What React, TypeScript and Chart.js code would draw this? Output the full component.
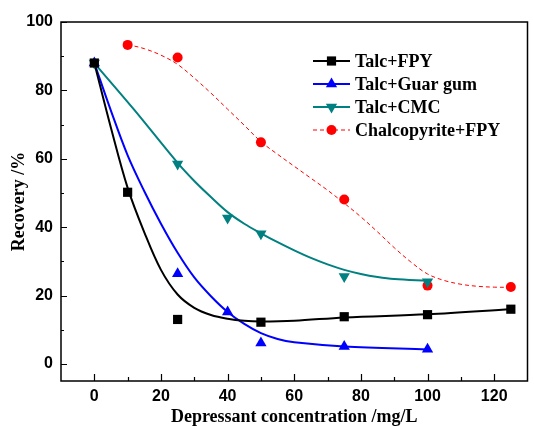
import { useEffect, useRef } from "react";
import { Chart, registerables } from "chart.js";

Chart.register(...registerables);

// ---- data ----
const seriesLabels = ["Talc+FPY", "Talc+Guar gum", "Talc+CMC", "Chalcopyrite+FPY"];
const seriesColors = ["#000000", "#0000ff", "#008080", "#ff0000"];

const talcFpyX = [0, 10, 25, 50, 75, 100, 125];
const talcFpyY = [88, 50.2, 13, 12.2, 13.8, 14.4, 16];
const talcGuarX = [0, 25, 40, 50, 75, 100];
const talcGuarY = [88, 26.4, 15.2, 6.1, 5.1, 4.3];
const talcCmcX = [0, 25, 40, 50, 75, 100];
const talcCmcY = [88, 58.5, 42.7, 38.1, 25.6, 24.0];
const chalcoX = [10, 25, 50, 75, 100, 125];
const chalcoY = [93.3, 89.6, 64.8, 48.1, 22.9, 22.5];

// fitted curves
const talcFpyFitX = [0, 5, 10, 15, 20, 25, 30, 35, 40, 45, 50, 60, 75, 100, 125];
const talcFpyFitY = [88, 69, 51.5, 38.5, 27.5, 20.3, 16.4, 14.3, 13.2, 12.6, 12.4, 12.6, 13.6, 14.5, 16];
const talcGuarFitX = [0, 5, 10, 15, 20, 25, 30, 35, 40, 45, 50, 55, 60, 75, 100];
const talcGuarFitY = [88, 74, 61, 50.5, 41, 32.5, 25.3, 19.8, 15.2, 11.7, 9, 7.3, 6.3, 5.1, 4.2];
const talcCmcFitX = [0, 12, 25, 30, 35, 40, 45, 50, 55, 60, 65, 70, 75, 80, 85, 90, 100];
const talcCmcFitY = [88, 74.3, 58.8, 53.5, 48.8, 44.4, 41, 38.2, 35.6, 33.2, 31, 29.1, 27.5, 26.3, 25.4, 24.8, 24.3];
const chalcoFitX = [10, 15, 20, 25, 30, 35, 40, 45, 50, 55, 60, 65, 70, 75, 80, 85, 90, 95, 100, 105, 110, 115, 120, 125];
const chalcoFitY = [93.4, 92.2, 90.3, 87.6, 83.6, 79.2, 74.5, 69.8, 65, 61.3, 57.8, 54.3, 50.8, 47, 43, 38.6, 34, 29.8, 26.3, 24.4, 23.3, 22.7, 22.45, 22.4];

const xMajorTicks = [0, 20, 40, 60, 80, 100, 120];
const xMinorTicks = [10, 30, 50, 70, 90, 110];
const yMajorTicks = [0, 20, 40, 60, 80, 100];
const yMinorTicks = [10, 30, 50, 70, 90];

const xTitle = "Depressant concentration /mg/L";
const yTitle = "Recovery /%";

const pts = (xs: number[], ys: number[]) => xs.map((x, i) => ({ x, y: ys[i] }));

const markerStyles = ["rect", "triangle", "triangle", "circle"];
const markerRot = [0, 0, 180, 0];
const markerRadius = [6.5, 6.5, 6.5, 5];
const lineWidths = [2, 2, 2, 1];
const lineDashes: number[][] = [[], [], [], [4, 3]];

function drawMarker(ctx: CanvasRenderingContext2D, i: number, x: number, y: number) {
  const r = markerRadius[i];
  ctx.save();
  ctx.fillStyle = seriesColors[i];
  ctx.setLineDash([]);
  ctx.beginPath();
  if (markerStyles[i] === "rect") {
    const s = Math.SQRT1_2 * r;
    ctx.rect(x - s, y - s, 2 * s, 2 * s);
  } else if (markerStyles[i] === "circle") {
    ctx.arc(x, y, r, 0, Math.PI * 2);
  } else {
    const rot = (markerRot[i] * Math.PI) / 180;
    for (let k = 0; k < 3; k++) {
      const a = rot + (k * 2 * Math.PI) / 3;
      const px = x + Math.sin(a) * r;
      const py = y - Math.cos(a) * r;
      if (k === 0) ctx.moveTo(px, py);
      else ctx.lineTo(px, py);
    }
    ctx.closePath();
  }
  ctx.fill();
  ctx.restore();
}

const framePlugin = {
  id: "frame",
  afterDraw(chart: any) {
    const { ctx, chartArea, scales } = chart;
    const { left, right, top, bottom } = chartArea;
    ctx.save();
    ctx.strokeStyle = "#000";
    ctx.lineWidth = 1.5;
    ctx.setLineDash([]);
    ctx.strokeRect(left, top, right - left, bottom - top);
    ctx.lineWidth = 1.2;
    ctx.beginPath();
    xMajorTicks.forEach((v) => {
      const px = Math.round(scales.x.getPixelForValue(v)) + 0.5;
      ctx.moveTo(px, bottom);
      ctx.lineTo(px, bottom - 7);
    });
    xMinorTicks.forEach((v) => {
      const px = Math.round(scales.x.getPixelForValue(v)) + 0.5;
      ctx.moveTo(px, bottom);
      ctx.lineTo(px, bottom - 4);
    });
    yMajorTicks.forEach((v) => {
      const py = Math.round(scales.y.getPixelForValue(v)) + 0.5;
      ctx.moveTo(left, py);
      ctx.lineTo(left + 6, py);
    });
    yMinorTicks.forEach((v) => {
      const py = Math.round(scales.y.getPixelForValue(v)) + 0.5;
      ctx.moveTo(left, py);
      ctx.lineTo(left + 3, py);
    });
    ctx.stroke();

    // legend
    const lx0 = 313, lx1 = 350, tx = 355, ly0 = 61, gap = 23;
    ctx.font = "bold 18px 'Liberation Serif', 'Times New Roman', serif";
    ctx.textBaseline = "middle";
    ctx.textAlign = "left";
    seriesLabels.forEach((label, i) => {
      const y = ly0 + i * gap;
      ctx.save();
      ctx.strokeStyle = seriesColors[i];
      ctx.lineWidth = lineWidths[i];
      ctx.setLineDash(lineDashes[i]);
      ctx.beginPath();
      ctx.moveTo(lx0, y);
      ctx.lineTo(lx1, y);
      ctx.stroke();
      ctx.restore();
      drawMarker(ctx, i, (lx0 + lx1) / 2, y);
      ctx.fillStyle = "#000";
      ctx.fillText(label, tx, y + 1);
    });
    ctx.restore();
  },
};

export default function App() {
  const ref = useRef<HTMLCanvasElement>(null);
  useEffect(() => {
    document.body.style.margin = "0";
    const fitXs = [talcFpyFitX, talcGuarFitX, talcCmcFitX, chalcoFitX];
    const fitYs = [talcFpyFitY, talcGuarFitY, talcCmcFitY, chalcoFitY];
    const ptXs = [talcFpyX, talcGuarX, talcCmcX, chalcoX];
    const ptYs = [talcFpyY, talcGuarY, talcCmcY, chalcoY];
    const datasets: any[] = [];
    seriesLabels.forEach((label, i) => {
      datasets.push({
        label: label + " fit",
        data: pts(fitXs[i], fitYs[i]),
        showLine: true,
        borderColor: seriesColors[i],
        borderWidth: lineWidths[i],
        borderDash: lineDashes[i],
        pointRadius: 0,
        tension: 0.35,
        fill: false,
        order: 2,
      });
    });
    seriesLabels.forEach((label, i) => {
      datasets.push({
        label,
        data: pts(ptXs[i], ptYs[i]),
        showLine: false,
        pointStyle: markerStyles[i],
        pointRotation: markerRot[i],
        pointRadius: markerRadius[i],
        pointBackgroundColor: seriesColors[i],
        pointBorderColor: seriesColors[i],
        pointBorderWidth: 0,
        order: 1,
      });
    });
    const chart = new Chart(ref.current!, {
      type: "scatter",
      data: { datasets },
      plugins: [framePlugin],
      options: {
        animation: false,
        responsive: false,
        clip: false as any,
        layout: { padding: { left: 0, right: 1, top: 22, bottom: 0 } },
        plugins: { legend: { display: false }, tooltip: { enabled: false } },
        scales: {
          x: {
            type: "linear",
            min: -10,
            max: 130,
            afterFit: (s: any) => { s.height = 45; },
            afterBuildTicks: (s: any) => { s.ticks = xMajorTicks.map((v) => ({ value: v })); },
            grid: { display: false, drawTicks: false },
            border: { display: false },
            ticks: {
              color: "#000",
              padding: 6,
              maxRotation: 0,
              font: { family: "'Liberation Sans', Arial, sans-serif", size: 16, weight: "bold" },
            },
            title: {
              display: true,
              text: xTitle,
              color: "#000",
              padding: { top: 0, bottom: 0 },
              font: { family: "'Liberation Serif', 'Times New Roman', serif", size: 18, weight: "bold", lineHeight: 1 },
            },
          },
          y: {
            type: "linear",
            min: -5,
            max: 100,
            afterFit: (s: any) => { s.width = 61; },
            afterBuildTicks: (s: any) => { s.ticks = yMajorTicks.map((v) => ({ value: v })); },
            grid: { display: false, drawTicks: false },
            border: { display: false },
            ticks: {
              color: "#000",
              padding: 8,
              font: { family: "'Liberation Sans', Arial, sans-serif", size: 16, weight: "bold" },
            },
            title: {
              display: true,
              text: yTitle,
              color: "#000",
              padding: { top: 10, bottom: 0 },
              font: { family: "'Liberation Serif', 'Times New Roman', serif", size: 18, weight: "bold", lineHeight: 1 },
            },
          },
        },
      },
    });
    return () => chart.destroy();
  }, []);
  return (
    <div style={{ position: "absolute", left: 0, top: 0, width: 534, height: 426, background: "#fff" }}>
      <canvas ref={ref} width={534} height={426} style={{ display: "block" }} />
    </div>
  );
}
